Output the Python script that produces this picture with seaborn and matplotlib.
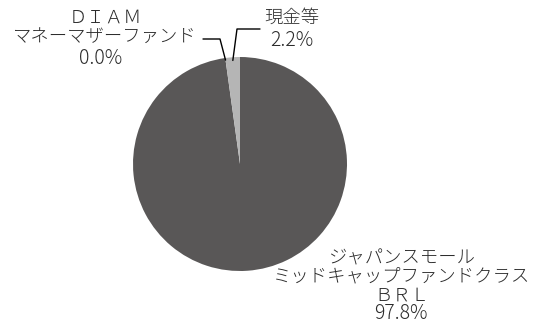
import numpy as np
import matplotlib
matplotlib.use("Agg")
import matplotlib.pyplot as plt
import seaborn as sns

names = ["ジャパンスモール\nミッドキャップファンドクラス\nＢＲＬ",
         "ＤＩＡＭ\nマネーマザーファンド",
         "現金等"]
values = [97.8, 0.0, 2.2]
colors = ["#595757", "#595757", "#b5b5b5"]

sns.set_theme(style="white")
plt.rcParams['font.family'] = ['Noto Sans CJK JP', 'DejaVu Sans']

W, H = 533, 324
fig = plt.figure(figsize=(W / 100, H / 100), dpi=100)
fig.patch.set_facecolor("white")

cx, cy, R = 240, 164, 107
ax = fig.add_axes([(cx - R) / W, (H - cy - R) / H, 2 * R / W, 2 * R / H])
wedges, _ = ax.pie(values, colors=colors, startangle=90, counterclock=False,
                   radius=1, wedgeprops=dict(linewidth=0))
ax.set_xlim(-1, 1)
ax.set_ylim(-1, 1)
ax.axis("off")


def d(px, py):
    return ((px - cx) / R, (cy - py) / R)


def edge(w, r=1.0):
    a = np.deg2rad((w.theta1 + w.theta2) / 2)
    return (r * np.cos(a), r * np.sin(a))

fs = 13.2
fsn = 14.0
tc = "#2b2b2b"
kw = dict(color=tc, clip_on=False, fontweight="light")

# big slice label
ax.text(*d(402, 277), names[0], ha="center", va="center",
        fontsize=fs, linespacing=1.06, **kw)
ax.text(*d(401, 313.5), f"{values[0]:.1f}%", ha="center", va="center", fontsize=fsn, **kw)

# MMF label with leader
p0 = edge(wedges[1], 0.98)
pts = [p0, d(220, 39), d(203, 39)]
ax.plot([p[0] for p in pts], [p[1] for p in pts], color="black", lw=1.0, clip_on=False)
ax.text(*d(105, 27.5), names[1], ha="center", va="center",
        fontsize=fs, linespacing=1.06, **kw)
ax.text(*d(101, 58), f"{values[1]:.1f}%", ha="center", va="center", fontsize=fsn, **kw)

# cash label with leader
p0 = edge(wedges[2], 0.97)
pts = [p0, d(237, 29), d(260, 29)]
ax.plot([p[0] for p in pts], [p[1] for p in pts], color="black", lw=1.0, clip_on=False)
ax.text(*d(264, 18), names[2], ha="left", va="center", fontsize=fs, **kw)
ax.text(*d(270, 40), f"{values[2]:.1f}%", ha="left", va="center", fontsize=fsn, **kw)

fig.savefig("out.png", dpi=100, facecolor="white")
